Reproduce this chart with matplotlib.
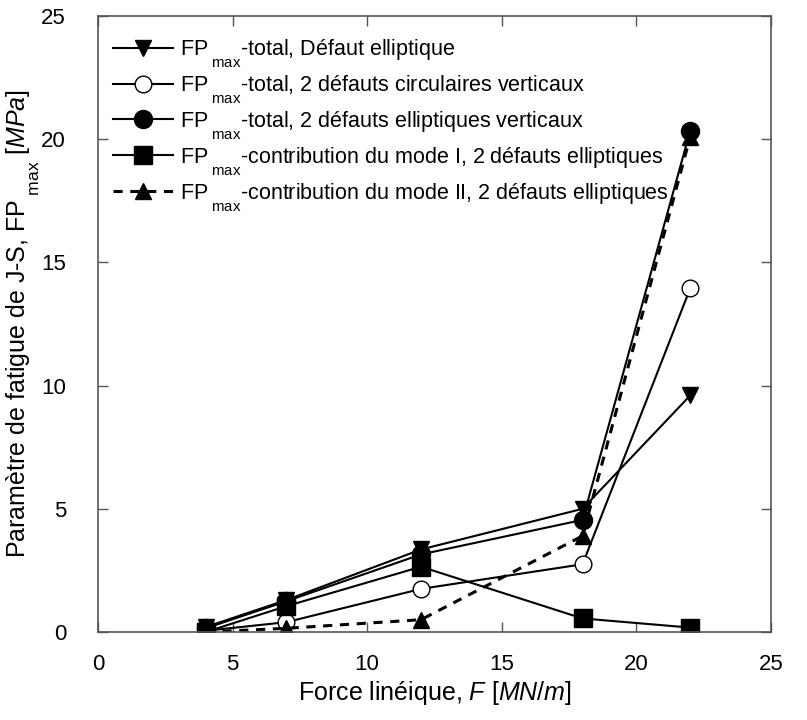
import matplotlib
matplotlib.use("Agg")
import matplotlib.pyplot as plt
import matplotlib._mathtext as mt

plt.rcParams['font.family'] = ['Liberation Sans', 'DejaVu Sans']
plt.rcParams['mathtext.fontset'] = 'custom'
plt.rcParams['mathtext.rm'] = 'Liberation Sans'
plt.rcParams['mathtext.it'] = 'Liberation Sans:italic'
# subscripts sit much lower in the original figure
mt.FontConstantsBase.sub1 = 1.0

# force lineique (MN/m)
force = [4, 7, 12, 18, 22]

# FPmax values (MPa)
fp_total_ellip = [0.2, 1.3, 3.35, 5.0, 9.6]
fp_total_2circ = [0.05, 0.4, 1.75, 2.75, 13.95]
fp_total_2ellip = [0.15, 1.25, 3.15, 4.55, 20.35]
fp_mode1 = [0.0, 1.05, 2.65, 0.55, 0.18]
fp_mode2 = [0.0, 0.15, 0.5, 3.9, 20.1]

fp = r'FP$_{\;\mathregular{max}}$'
labels = [
    fp + '-total, Défaut elliptique',
    fp + '-total, 2 défauts circulaires verticaux',
    fp + '-total, 2 défauts elliptiques verticaux',
    fp + '-contribution du mode I, 2 défauts elliptiques',
    fp + '-contribution du mode II, 2 défauts elliptiques',
]

fig = plt.figure(figsize=(8.07, 7.2), dpi=100)
ax = fig.add_axes([0.1214, 0.1222, 0.834, 0.8556])

ax.plot(force, fp_total_ellip, 'k-', marker='v', ms=12, lw=1.5, label=labels[0])
ax.plot(force, fp_total_2circ, 'k-', marker='o', ms=12, mfc='white', lw=1.5, label=labels[1])
ax.plot(force, fp_total_2ellip, 'k-', marker='o', ms=13, lw=1.5, label=labels[2])
ax.plot(force, fp_mode1, 'k-', marker='s', ms=13, lw=1.5, label=labels[3])
ax.plot(force, fp_mode2, 'k--', marker='^', ms=12, lw=2.2, dashes=(3, 2.5), label=labels[4])

ax.set_xlim(0, 25)
ax.set_ylim(0, 25)
ax.set_xticks([0, 5, 10, 15, 20, 25])
ax.set_yticks([0, 5, 10, 15, 20, 25])
ax.tick_params(direction='in', top=True, right=True, length=7, width=1, color='#555555', labelsize=16)
ax.tick_params(axis='x', pad=16)
ax.tick_params(axis='y', pad=23)
for s in ax.spines.values():
    s.set_color('#555555')
    s.set_linewidth(1.2)

ax.set_xlabel(r'Force linéique, $\mathit{F}$ [$\mathit{MN/m}$]', fontsize=18, labelpad=3)
ax.set_ylabel(r'Paramètre de fatigue de J-S, FP$_{\;\mathregular{max}}$ [$\mathit{MPa}$]', fontsize=18, labelpad=0)

ax.legend(loc='upper left', frameon=False, fontsize=15.5, handlelength=2.8, handletextpad=0.3,
          labelspacing=0.18, borderaxespad=0.3, bbox_to_anchor=(0.0, 0.99))

fig.savefig('out.png', dpi=100)
